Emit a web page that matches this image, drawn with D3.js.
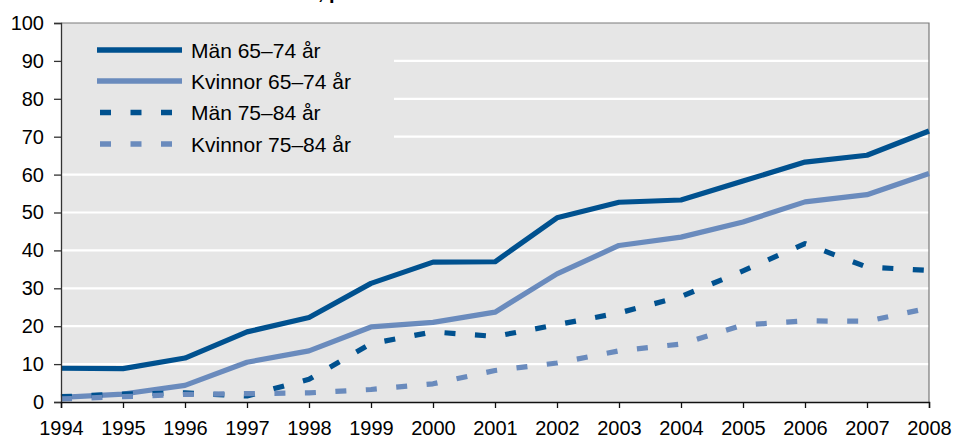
<!DOCTYPE html>
<html>
<head>
<meta charset="utf-8">
<script src="https://cdn.jsdelivr.net/npm/d3@7"></script>
<style>
html,body{margin:0;padding:0;background:#fff;}
svg{display:block;font-family:"Liberation Sans",Arial,sans-serif;}
</style>
</head>
<body>
<svg id="chart" width="953" height="439"></svg>
<script>
const years = [1994,1995,1996,1997,1998,1999,2000,2001,2002,2003,2004,2005,2006,2007,2008];
const man6574 = [8.9,8.8,11.6,18.5,22.3,31.3,36.9,37.0,48.6,52.7,53.3,58.3,63.3,65.1,71.5];
const kvinnor6574 = [1.2,2.1,4.4,10.5,13.5,19.8,21.0,23.7,33.8,41.3,43.5,47.5,52.8,54.7,60.3];
const man7584 = [1.4,2.1,2.4,1.6,6.0,15.4,18.5,17.3,20.4,23.5,27.8,34.6,41.8,35.6,34.7];
const kvinnor7584 = [0.8,1.4,2.0,2.2,2.4,3.3,4.8,8.3,10.3,13.5,15.3,20.3,21.4,21.3,24.8];
const yTicks = [0,10,20,30,40,50,60,70,80,90,100];
const seriesNames = ["Män 65–74 år","Kvinnor 65–74 år","Män 75–84 år","Kvinnor 75–84 år"];
const titleFragment = ", p";

const DARK = "#00518f", LIGHT = "#6a8bbd";
const series = [
  {name: seriesNames[0], values: man6574, color: DARK, dash: null},
  {name: seriesNames[1], values: kvinnor6574, color: LIGHT, dash: null},
  {name: seriesNames[2], values: man7584, color: DARK, dash: "11,19.5"},
  {name: seriesNames[3], values: kvinnor7584, color: LIGHT, dash: "11,19.5"}
];

const svg = d3.select("#chart");
const L = 61, R = 929, T = 23, B = 402;

const x = d3.scaleLinear().domain([years[0], years[years.length-1]]).range([L, R]);
const y = d3.scaleLinear().domain([0, 100]).range([B, T]);

// title fragment (cut off at top, as in the reference)
svg.append("text").attr("x", 318).attr("y", -1.5)
  .attr("font-size", 20).attr("font-weight", "bold").attr("fill", "#000")
  .text(titleFragment);

// plot background
svg.append("rect").attr("x", L).attr("y", T).attr("width", R - L).attr("height", B - T).attr("fill", "#e6e6e6");

// gridlines
svg.append("g").selectAll("line").data(yTicks.filter(d => d > 0 && d < 100)).join("line")
  .attr("x1", L).attr("x2", R).attr("y1", d => y(d)).attr("y2", d => y(d))
  .attr("stroke", "#fff").attr("stroke-width", 2.2);

// legend background covering gridlines
svg.append("rect").attr("x", L + 1).attr("y", T + 1).attr("width", 332).attr("height", 140).attr("fill", "#e6e6e6");

// border top/right
svg.append("path").attr("d", `M${L},${T}H${R}V${B}`).attr("fill", "none").attr("stroke", "#7a7a7a").attr("stroke-width", 1.2);

// lines
const line = d3.line().x((d, i) => x(years[i])).y(d => y(d));
series.forEach(s => {
  svg.append("path").datum(s.values).attr("d", line)
    .attr("fill", "none").attr("stroke", s.color).attr("stroke-width", 5.2)
    .attr("stroke-linejoin", "round")
    .attr("stroke-dasharray", s.dash);
});

// y axis
const yAxis = d3.axisLeft(y).tickValues(yTicks).tickSize(7).tickPadding(10).tickFormat(d3.format("d"));
const gy = svg.append("g").attr("transform", `translate(${L},0)`).call(yAxis);
gy.select(".domain").attr("stroke", "#333").attr("stroke-width", 1.3);
gy.selectAll(".tick line").attr("stroke", "#333").attr("stroke-width", 1.3);
gy.selectAll(".tick text").attr("font-size", 20).attr("fill", "#000").attr("font-family", "Liberation Sans, Arial, sans-serif");

// x axis
const xAxis = d3.axisBottom(x).tickValues(years).tickSize(6).tickPadding(13).tickFormat(d3.format("d"));
const gx = svg.append("g").attr("transform", `translate(0,${B})`).call(xAxis);
gx.select(".domain").attr("stroke", "#111").attr("stroke-width", 1.4);
gx.selectAll(".tick line").attr("stroke", "#111").attr("stroke-width", 1.3);
gx.selectAll(".tick text").attr("font-size", 20).attr("fill", "#000").attr("font-family", "Liberation Sans, Arial, sans-serif");

// legend
const lg = svg.append("g");
const rowY = [50, 81, 112.5, 144];
series.forEach((s, i) => {
  lg.append("line").attr("x1", 97).attr("x2", 182).attr("y1", rowY[i]).attr("y2", rowY[i])
    .attr("stroke", s.color).attr("stroke-width", 5.3)
    .attr("stroke-dasharray", s.dash ? "11,19.5" : null)
    .attr("stroke-dashoffset", s.dash ? -3 : null);
  lg.append("text").attr("x", 191).attr("y", rowY[i]).attr("dy", "0.36em")
    .attr("font-size", 21).attr("fill", "#000").text(s.name);
});
</script>
</body>
</html>
